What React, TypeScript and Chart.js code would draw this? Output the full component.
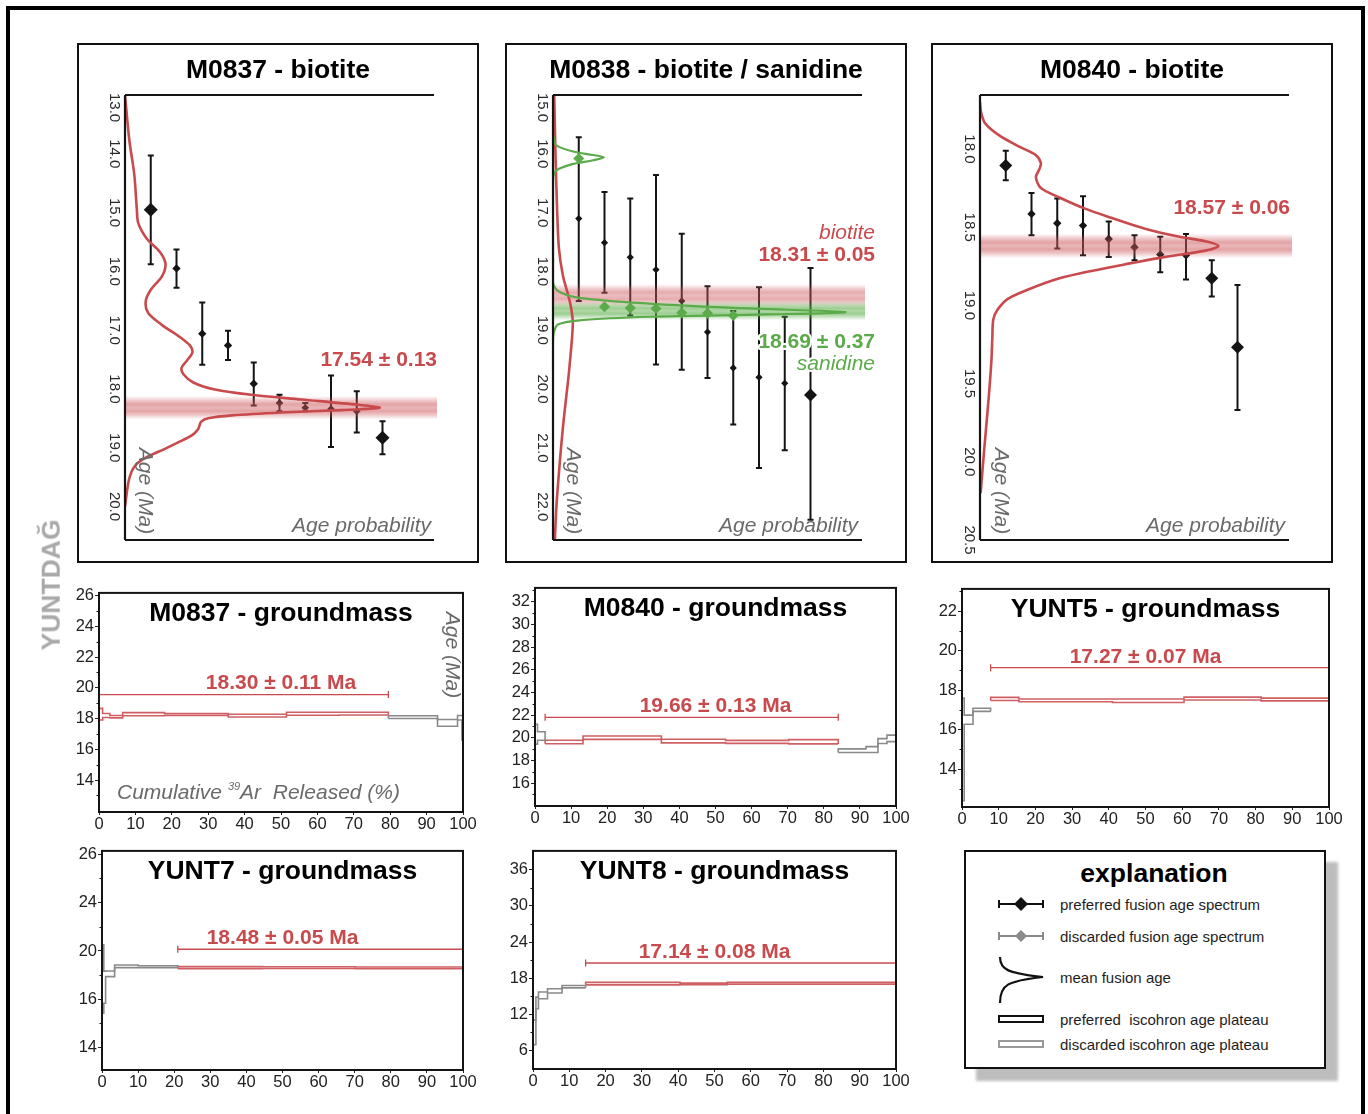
import React, { useEffect, useRef } from 'react';
import { Chart, registerables } from 'chart.js';

Chart.register(...registerables);

const FONT = '"Liberation Sans", Arial, Helvetica, sans-serif';
const INK = '#141414';
const RED = '#c94a4d';
const RED_STEP = '#d05f63';
const GREEN = '#5cab4a';
const GRAY_STEP = '#8a8a8a';
const TEXT_GRAY = '#6a6a6a';

// ================= FUSION AGE PANELS (age probability) =================
// M0837 biotite
const M0837_BT_STEPS = [1, 2, 3, 4, 5, 6, 7, 8, 9, 10];
const M0837_BT_AGE = [14.95, 15.95, 17.06, 17.26, 17.91, 18.24, 18.32, 18.34, 18.38, 18.83];
const M0837_BT_LO = [14.03, 15.63, 16.53, 17.01, 17.55, 18.10, 18.24, 17.77, 18.04, 18.55];
const M0837_BT_HI = [15.88, 16.28, 17.59, 17.51, 18.28, 18.38, 18.38, 18.99, 18.74, 19.11];
const M0837_PDF_AGE = [13.0, 13.77, 14.35, 14.92, 15.18, 15.44, 15.67, 15.87, 16.08, 16.31, 16.51, 16.71, 16.91, 17.12, 17.26, 17.38, 17.52, 17.64, 17.75, 17.89, 18.01, 18.10, 18.18, 18.27, 18.32, 18.36, 18.40, 18.45, 18.50, 18.56, 18.68, 18.79, 18.91, 19.02, 19.16, 19.31, 19.54, 20.0];
const M0837_PDF_P = [0, 0.014, 0.030, 0.038, 0.043, 0.070, 0.113, 0.131, 0.120, 0.084, 0.067, 0.075, 0.119, 0.178, 0.210, 0.218, 0.200, 0.183, 0.189, 0.221, 0.291, 0.409, 0.571, 0.754, 0.824, 0.700, 0.506, 0.345, 0.269, 0.246, 0.237, 0.216, 0.172, 0.129, 0.070, 0.032, 0.013, 0];
const M0837_BT_BAND = [18.32, 0.2];
const M0837_BT_TICKS = [13, 14, 15, 16, 17, 18, 19, 20];
const M0837_BT_TICK_LABELS = ['13.0', '14.0', '15.0', '16.0', '17.0', '18.0', '19.0', '20.0'];

// M0838 biotite / sanidine
const M0838_BT_STEPS = [1, 2, 3, 4, 5, 6, 7, 8, 9, 10];
const M0838_BT_AGE = [17.10, 17.51, 17.76, 17.97, 18.50, 19.03, 19.64, 19.80, 19.90, 20.10];
const M0838_BT_LO = [15.72, 16.65, 16.76, 16.36, 17.36, 18.25, 18.67, 18.27, 18.77, 17.94];
const M0838_BT_HI = [18.50, 18.36, 18.75, 19.58, 19.67, 19.81, 20.60, 21.34, 21.04, 22.22];
const M0838_SA_STEPS = [1, 2, 3, 4, 5, 6, 7];
const M0838_SA_AGE = [16.08, 18.60, 18.62, 18.63, 18.70, 18.71, 18.75];
const M0838_BT_PDF_AGE = [15.0, 16.0, 16.9, 17.6, 18.07, 18.4, 18.6, 18.85, 19.1, 19.35, 19.8, 20.5, 21.0, 21.5, 22.0, 22.56];
const M0838_BT_PDF_P = [0.004, 0.008, 0.013, 0.019, 0.032, 0.049, 0.058, 0.064, 0.062, 0.058, 0.05, 0.035, 0.026, 0.018, 0.011, 0.006];
const M0838_SA_PDF_AGE = [15.67, 15.85, 15.96, 16.02, 16.06, 16.11, 16.18, 16.29, 16.45, 18.18, 18.33, 18.44, 18.53, 18.62, 18.69, 18.73, 18.77, 18.83, 18.90, 19.05, 19.2];
const M0838_SA_PDF_P = [0, 0.009, 0.065, 0.13, 0.165, 0.13, 0.059, 0.009, 0, 0, 0.016, 0.076, 0.259, 0.584, 0.946, 0.692, 0.314, 0.086, 0.016, 0.002, 0];
const M0838_BT_BAND = [18.41, 0.195];
const M0838_SA_BAND = [18.67, 0.16];
const M0838_TICKS = [15, 16, 17, 18, 19, 20, 21, 22];
const M0838_TICK_LABELS = ['15.0', '16.0', '17.0', '18.0', '19.0', '20.0', '21.0', '22.0'];

// M0840 biotite
const M0840_BT_STEPS = [1, 2, 3, 4, 5, 6, 7, 8, 9, 10];
const M0840_BT_AGE = [18.106, 18.415, 18.475, 18.490, 18.576, 18.628, 18.674, 18.680, 18.827, 19.267];
const M0840_BT_LO = [18.011, 18.281, 18.317, 18.302, 18.464, 18.551, 18.561, 18.544, 18.712, 18.870];
const M0840_BT_HI = [18.200, 18.551, 18.637, 18.680, 18.691, 18.712, 18.788, 18.835, 18.943, 19.669];
const M0840_PDF_AGE = [17.70, 17.77, 17.84, 17.92, 17.99, 18.04, 18.09, 18.13, 18.18, 18.25, 18.31, 18.38, 18.44, 18.51, 18.56, 18.59, 18.62, 18.65, 18.69, 18.73, 18.78, 18.83, 18.90, 18.96, 19.03, 19.09, 19.20, 19.35, 19.57, 19.89, 20.20];
const M0840_PDF_P = [0, 0.004, 0.018, 0.067, 0.132, 0.181, 0.197, 0.192, 0.181, 0.197, 0.257, 0.338, 0.425, 0.534, 0.642, 0.729, 0.772, 0.729, 0.599, 0.490, 0.360, 0.252, 0.154, 0.089, 0.056, 0.043, 0.040, 0.037, 0.029, 0.015, 0.002];
const M0840_BT_BAND = [18.62, 0.078];
const M0840_TICKS = [18.0, 18.5, 19.0, 19.5, 20.0, 20.5];
const M0840_TICK_LABELS = ['18.0', '18.5', '19.0', '19.5', '20.0', '20.5'];

// ================= STEP-HEATING (groundmass) PANELS =================
const M0837_GM_X = [0, 1, 3, 6.5, 18, 35.5, 51.5, 66, 79.5, 93, 98.5, 99.7, 100];
const M0837_GM_AGE = [18.28, 18.2, 18.12, 18.28, 18.26, 18.19, 18.31, 18.32, 18.09, 17.72, 18.05, 17.4];
const M0837_GM_ERR = [0.38, 0.13, 0.08, 0.1, 0.06, 0.09, 0.1, 0.09, 0.09, 0.22, 0.15, 0.8];
const M0837_GM_PLATEAU = [0, 7];
const M0837_GM_BAR = [19.56, 0, 79.5];
const M0837_GM_YTICKS = [14, 16, 18, 20, 22, 24, 26];
const M0837_GM_YLABELS = ['14', '16', '18', '20', '22', '24', '26'];
const M0837_GM_YMINOR = [13, 15, 17, 19, 21, 23, 25];

const M0840_GM_X = [0, 0.7, 2.8, 13.3, 35, 52.8, 70.3, 84, 91.7, 95, 97.5, 100];
const M0840_GM_AGE = [20.3, 20.15, 19.62, 20.0, 19.7, 19.63, 19.64, 18.85, 18.95, 19.7, 19.94];
const M0840_GM_ERR = [0.87, 0.38, 0.15, 0.15, 0.16, 0.13, 0.19, 0.16, 0.26, 0.22, 0.29];
const M0840_GM_PLATEAU = [2, 6];
const M0840_GM_BAR = [21.8, 2.8, 84];
const M0840_GM_YTICKS = [16, 18, 20, 22, 24, 26, 28, 30, 32];
const M0840_GM_YLABELS = ['16', '18', '20', '22', '24', '26', '28', '30', '32'];
const M0840_GM_YMINOR = [15, 17, 19, 21, 23, 25, 27, 29, 31, 33];

const YUNT5_X = [0, 0.6, 3, 7.8, 15.5, 41, 60.5, 81.5, 100];
const YUNT5_AGE = [15.0, 16.5, 17.0, 17.55, 17.48, 17.46, 17.57, 17.52];
const YUNT5_ERR = [2.6, 0.23, 0.08, 0.08, 0.07, 0.09, 0.07, 0.07];
const YUNT5_PLATEAU = [3, 7];
const YUNT5_BAR = [19.13, 7.8, 100];
const YUNT5_YTICKS = [14, 16, 18, 20, 22];
const YUNT5_YLABELS = ['14', '16', '18', '20', '22'];
const YUNT5_YMINOR = [13, 15, 17, 19, 21, 23];

const YUNT7_X = [0, 0.5, 1, 3.5, 10, 21, 44.5, 70, 100];
const YUNT7_AGE = [17.67, 17.0, 18.11, 18.73, 18.7, 18.62, 18.62, 18.6];
const YUNT7_ERR = [2.83, 1.33, 0.23, 0.11, 0.08, 0.08, 0.07, 0.07];
const YUNT7_PLATEAU = [5, 7];
const YUNT7_BAR = [20.14, 21, 100];
const YUNT7_YTICKS = [12, 16, 20, 24, 28];
const YUNT7_YLABELS = ['14', '16', '20', '24', '26'];
const YUNT7_YMINOR = [14, 18, 22, 26];

const YUNT8_X = [0, 0.8, 1.5, 4, 8, 14.5, 40.5, 53.5, 77.5, 100];
const YUNT8_AGE = [9.0, 13.9, 15.15, 15.9, 16.6, 17.1, 17.05, 17.18, 17.18];
const YUNT8_ERR = [2.05, 0.96, 0.55, 0.36, 0.2, 0.2, 0.14, 0.16, 0.16];
const YUNT8_PLATEAU = [5, 8];
const YUNT8_BAR = [20.52, 14.5, 100];
const YUNT8_YTICKS = [6, 12, 18, 24, 30, 36];
const YUNT8_YLABELS = ['6', '12', '18', '24', '30', '36'];
const YUNT8_YMINOR = [9, 15, 21, 27, 33];

const LEGEND_ITEMS = [
  'preferred fusion age spectrum',
  'discarded fusion age spectrum',
  'mean fusion age',
  'preferred  iscohron age plateau',
  'discarded iscohron age plateau',
];

// ================= helpers =================
type Txt = { text: string; x: number; y: number; font: string; color: string; align?: CanvasTextAlign; rotate?: number; outline?: boolean };

function drawTxt(ctx: CanvasRenderingContext2D, t: Txt, ox: number, oy: number) {
  ctx.save();
  ctx.font = t.font;
  ctx.fillStyle = t.color;
  ctx.textAlign = t.align || 'center';
  ctx.textBaseline = 'middle';
  ctx.translate(t.x - ox, t.y - oy);
  if (t.rotate) ctx.rotate(t.rotate);
  if (t.outline) {
    ctx.strokeStyle = '#ffffff';
    ctx.lineWidth = 4;
    ctx.lineJoin = 'round';
    ctx.strokeText(t.text, 0, 0);
  }
  ctx.fillText(t.text, 0, 0);
  ctx.restore();
}

const TITLE_FONT = `bold 26.5px ${FONT}`;
const VALUE_FONT = `bold 21px ${FONT}`;
const ITAL_FONT = `italic 21px ${FONT}`;

function fusionConfig(spec: any) {
  const ox = spec.box.l, oy = spec.box.t;
  const datasets: any[] = [];
  spec.curves.forEach((c: any) => {
    datasets.push({
      data: c.age.map((a: number, i: number) => ({ x: c.p[i], y: a })),
      xAxisID: 'xp', yAxisID: 'y', showLine: true, borderColor: c.color, borderWidth: c.width,
      pointRadius: 0, tension: 0.3, fill: false,
    });
  });
  if (spec.extra) {
    datasets.push({
      data: spec.extra.steps.map((s: number, i: number) => ({ x: s, y: spec.extra.age[i] })),
      xAxisID: 'x', yAxisID: 'y', pointStyle: 'rectRot', pointRadius: 5.5,
      backgroundColor: spec.extra.color, borderColor: spec.extra.color, borderWidth: 0,
    });
  }
  const mainIndex = datasets.length;
  datasets.push({
    data: spec.main.steps.map((s: number, i: number) => ({ x: s, y: spec.main.age[i] })),
    xAxisID: 'x', yAxisID: 'y', pointStyle: 'rectRot', pointRadius: spec.main.radius,
    backgroundColor: INK, borderColor: INK, borderWidth: 0,
  });

  const plugin = {
    id: 'fusionDecor',
    beforeDatasetDraw(chart: any, args: any) {
      if (args.index !== mainIndex) return;
      const ctx = chart.ctx, xs = chart.scales.x, ys = chart.scales.y;
      ctx.save();
      ctx.strokeStyle = INK;
      ctx.lineWidth = 2;
      spec.main.steps.forEach((s: number, i: number) => {
        const px = xs.getPixelForValue(s);
        const y1 = ys.getPixelForValue(spec.main.lo[i]);
        const y2 = ys.getPixelForValue(spec.main.hi[i]);
        ctx.beginPath();
        ctx.moveTo(px, y1); ctx.lineTo(px, y2);
        ctx.moveTo(px - 3, y1); ctx.lineTo(px + 3, y1);
        ctx.moveTo(px - 3, y2); ctx.lineTo(px + 3, y2);
        ctx.stroke();
      });
      ctx.restore();
    },
    afterDatasetDraw(chart: any, args: any) {
      if (args.index !== mainIndex) return;
      const ctx = chart.ctx, ys = chart.scales.y, a = chart.chartArea;
      ctx.save();
      spec.bands.forEach((b: any) => {
        const y1 = ys.getPixelForValue(b.v[0] - b.v[1]);
        const y2 = ys.getPixelForValue(b.v[0] + b.v[1]);
        const g = ctx.createLinearGradient(0, y1, 0, y2);
        const c = (al: number) => `rgba(${b.rgb},${al})`;
        g.addColorStop(0, c(0));
        g.addColorStop(0.18, c(b.alpha * 0.55));
        g.addColorStop(0.35, c(b.alpha));
        g.addColorStop(0.5, c(b.alpha * 0.8));
        g.addColorStop(0.65, c(b.alpha));
        g.addColorStop(0.82, c(b.alpha * 0.55));
        g.addColorStop(1, c(0));
        ctx.fillStyle = g;
        ctx.fillRect(a.left, y1, a.right - a.left + 3, y2 - y1);
      });
      ctx.restore();
    },
    afterDraw(chart: any) {
      const ctx = chart.ctx, ys = chart.scales.y, a = chart.chartArea;
      ctx.save();
      ctx.strokeStyle = INK;
      ctx.lineWidth = 2.2;
      ctx.beginPath();
      ctx.moveTo(a.left, a.top); ctx.lineTo(a.left, a.bottom);
      ctx.moveTo(a.left, a.top); ctx.lineTo(a.right, a.top);
      ctx.moveTo(a.left, a.bottom); ctx.lineTo(a.right, a.bottom);
      ctx.stroke();
      ctx.font = `15px ${FONT}`;
      ctx.fillStyle = '#2a2a2a';
      ctx.textAlign = 'center';
      ctx.textBaseline = 'middle';
      spec.ticks.forEach((v: number, i: number) => {
        const lab = spec.tickLabels[i];
        const w = ctx.measureText(lab).width;
        let y = ys.getPixelForValue(v);
        if (y - w / 2 < a.top - 2) y = a.top - 2 + w / 2;
        ctx.save();
        ctx.translate(a.left - 11, y);
        ctx.rotate(Math.PI / 2);
        ctx.fillText(lab, 0, 0);
        ctx.restore();
      });
      ctx.restore();
      spec.texts.forEach((t: Txt) => drawTxt(ctx, t, ox, oy));
    },
  };

  return {
    type: 'scatter',
    data: { datasets },
    options: {
      animation: false, responsive: false, maintainAspectRatio: false, devicePixelRatio: 1, events: [],
      layout: { padding: { left: spec.area.l - spec.box.l, top: spec.area.t - spec.box.t, right: spec.box.r - spec.area.r, bottom: spec.box.b - spec.area.b } },
      plugins: { legend: { display: false }, tooltip: { enabled: false }, title: { display: false } },
      scales: {
        x: { type: 'linear', min: 0, max: 12, display: false },
        xp: { type: 'linear', axis: 'x', min: 0, max: 1, display: false },
        y: { type: 'linear', min: spec.yMin, max: spec.yMax, reverse: true, display: false },
      },
    },
    plugins: [plugin],
  };
}

const PAD_L = 45, PAD_T = 8, PAD_R = 22, PAD_B = 30;

function stepConfig(spec: any) {
  const ox = spec.box.l - PAD_L, oy = spec.box.t - PAD_T;
  const datasets: any[] = [];
  const n = spec.age.length;
  const [p0, p1] = spec.plateau;
  const segs: any[] = [];
  if (p0 > 0) segs.push([0, p0 - 1, GRAY_STEP]);
  segs.push([p0, p1, RED_STEP]);
  if (p1 < n - 1) segs.push([p1 + 1, n - 1, GRAY_STEP]);
  segs.forEach(([a, b, color]: any) => {
    const up: any[] = [{ x: spec.x[a], y: spec.age[a] - spec.err[a] }];
    const lo: any[] = [];
    for (let i = a; i <= b; i++) {
      up.push({ x: spec.x[i], y: spec.age[i] + spec.err[i] });
      lo.push({ x: spec.x[i], y: spec.age[i] - spec.err[i] });
    }
    up.push({ x: spec.x[b + 1], y: spec.age[b] + spec.err[b] });
    up.push({ x: spec.x[b + 1], y: spec.age[b] - spec.err[b] });
    lo.push({ x: spec.x[b + 1], y: spec.age[b] - spec.err[b] });
    [up, lo].forEach((d) => datasets.push({
      data: d, showLine: true, stepped: 'before', borderColor: color, borderWidth: 1.6,
      pointRadius: 0, fill: false, tension: 0,
    }));
  });
  datasets.push({
    data: [{ x: spec.bar[1], y: spec.bar[0] }, { x: spec.bar[2], y: spec.bar[0] }],
    showLine: true, borderColor: RED, borderWidth: 1.3, pointStyle: 'line', pointRadius: 3.5,
    pointRotation: 90, pointBorderColor: RED, pointBorderWidth: 1.3, clip: 6,
  });

  const plugin = {
    id: 'stepDecor',
    afterDraw(chart: any) {
      const ctx = chart.ctx, a = chart.chartArea, ys = chart.scales.y;
      ctx.save();
      ctx.strokeStyle = INK;
      ctx.lineWidth = 2;
      ctx.strokeRect(a.left, a.top, a.right - a.left, a.bottom - a.top);
      ctx.lineWidth = 1;
      ctx.beginPath();
      spec.yMinor.forEach((v: number) => {
        const y = Math.round(ys.getPixelForValue(v)) + 0.5;
        ctx.moveTo(a.left - 2.5, y); ctx.lineTo(a.left, y);
      });
      ctx.stroke();
      ctx.restore();
      const cx = (spec.box.l + spec.box.r) / 2;
      drawTxt(ctx, { text: spec.title, x: cx, y: spec.box.t + 24, font: TITLE_FONT, color: '#000' }, ox, oy);
      const by = ys.getPixelForValue(spec.bar[0]) + oy - 11;
      drawTxt(ctx, { text: spec.label, x: cx, y: by, font: VALUE_FONT, color: RED }, ox, oy);
      if (spec.axisNames) {
        drawTxt(ctx, { text: 'Age (Ma)', x: spec.box.r - 11, y: spec.box.t + 65, font: ITAL_FONT, color: TEXT_GRAY, rotate: Math.PI / 2 }, ox, oy);
        ctx.save();
        ctx.fillStyle = TEXT_GRAY;
        ctx.textAlign = 'left';
        ctx.textBaseline = 'alphabetic';
        let x = spec.box.l + 18 - ox;
        const y = spec.box.b - 13 - oy;
        ctx.font = ITAL_FONT;
        ctx.fillText('Cumulative ', x, y);
        x += ctx.measureText('Cumulative ').width;
        ctx.font = `italic 11px ${FONT}`;
        ctx.fillText('39', x, y - 9);
        x += ctx.measureText('39').width;
        ctx.font = ITAL_FONT;
        ctx.fillText('Ar  Released (%)', x, y);
        ctx.restore();
      }
    },
  };

  const tickFont = { family: FONT, size: 16.5 };
  return {
    type: 'scatter',
    data: { datasets },
    options: {
      animation: false, responsive: false, maintainAspectRatio: false, devicePixelRatio: 1, events: [],
      layout: { padding: { left: 0, top: PAD_T, right: PAD_R, bottom: 0 } },
      plugins: { legend: { display: false }, tooltip: { enabled: false } },
      scales: {
        x: {
          type: 'linear', min: 0, max: 100,
          afterFit: (s: any) => { s.height = PAD_B; },
          ticks: { stepSize: 10, font: tickFont, color: '#222', padding: 0, maxRotation: 0, autoSkip: false },
          grid: { drawOnChartArea: false, tickLength: 3, color: '#222', lineWidth: 1 },
          border: { display: false },
        },
        y: {
          type: 'linear', min: spec.yMin, max: spec.yMax,
          afterFit: (s: any) => { s.width = PAD_L; },
          afterBuildTicks: (s: any) => { s.ticks = spec.yTicks.map((v: number) => ({ value: v })); },
          ticks: { callback: (_v: any, i: number) => spec.yLabels[i], font: tickFont, color: '#222', padding: 1, autoSkip: false },
          grid: { drawOnChartArea: false, tickLength: 4, color: '#222', lineWidth: 1 },
          border: { display: false },
        },
      },
    },
    plugins: [plugin],
  };
}

function ChartCanvas({ left, top, width, height, make }: any) {
  const ref = useRef<HTMLCanvasElement | null>(null);
  useEffect(() => {
    const chart = new Chart(ref.current as HTMLCanvasElement, make());
    return () => chart.destroy();
  }, []);
  return <canvas ref={ref} width={width} height={height} style={{ position: 'absolute', left, top, width, height }} />;
}

// ================= panel specs =================
const txt = (text: string, x: number, y: number, font: string, color: string, extra: any = {}): Txt => ({ text, x, y, font, color, ...extra });

const FUSION_PANELS = [
  {
    box: { l: 78, t: 44, r: 478, b: 562 }, area: { l: 125, t: 95, r: 434, b: 540 },
    yMin: 13.0, yMax: 20.57, ticks: M0837_BT_TICKS, tickLabels: M0837_BT_TICK_LABELS,
    main: { steps: M0837_BT_STEPS, age: M0837_BT_AGE, lo: M0837_BT_LO, hi: M0837_BT_HI, radius: [7, 4.2, 4.2, 4.2, 4.2, 3.8, 3.8, 3.8, 3.8, 7] },
    extra: null,
    curves: [{ age: M0837_PDF_AGE, p: M0837_PDF_P, color: RED, width: 2.6 }],
    bands: [{ v: M0837_BT_BAND, rgb: '205,88,92', alpha: 0.55 }],
    texts: [
      txt('M0837 - biotite', 278, 71, TITLE_FONT, '#000'),
      txt('17.54 ± 0.13', 437, 360, VALUE_FONT, RED, { align: 'right' }),
      txt('Age probability', 431, 526, ITAL_FONT, TEXT_GRAY, { align: 'right' }),
      txt('Age (Ma)', 145, 491, ITAL_FONT, TEXT_GRAY, { rotate: Math.PI / 2 }),
    ],
  },
  {
    box: { l: 506, t: 44, r: 906, b: 562 }, area: { l: 553, t: 95, r: 862, b: 540 },
    yMin: 15.0, yMax: 22.565, ticks: M0838_TICKS, tickLabels: M0838_TICK_LABELS,
    main: { steps: M0838_BT_STEPS, age: M0838_BT_AGE, lo: M0838_BT_LO, hi: M0838_BT_HI, radius: [3.6, 3.6, 3.6, 3.6, 3.6, 3.6, 3.6, 3.6, 3.6, 6.5] },
    extra: { steps: M0838_SA_STEPS, age: M0838_SA_AGE, color: GREEN },
    curves: [
      { age: M0838_SA_PDF_AGE, p: M0838_SA_PDF_P, color: GREEN, width: 2.2 },
      { age: M0838_BT_PDF_AGE, p: M0838_BT_PDF_P, color: RED, width: 2.6 },
    ],
    bands: [
      { v: M0838_BT_BAND, rgb: '205,88,92', alpha: 0.5 },
      { v: M0838_SA_BAND, rgb: '90,172,72', alpha: 0.6 },
    ],
    texts: [
      txt('M0838 - biotite / sanidine', 706, 71, TITLE_FONT, '#000'),
      txt('biotite', 875, 233, ITAL_FONT, RED, { align: 'right' }),
      txt('18.31 ± 0.05', 875, 255, VALUE_FONT, RED, { align: 'right' }),
      txt('18.69 ± 0.37', 875, 342, VALUE_FONT, GREEN, { align: 'right', outline: true }),
      txt('sanidine', 875, 364, ITAL_FONT, GREEN, { align: 'right', outline: true }),
      txt('Age probability', 858, 526, ITAL_FONT, TEXT_GRAY, { align: 'right' }),
      txt('Age (Ma)', 573, 491, ITAL_FONT, TEXT_GRAY, { rotate: Math.PI / 2 }),
    ],
  },
  {
    box: { l: 932, t: 44, r: 1332, b: 562 }, area: { l: 980, t: 95, r: 1289, b: 540 },
    yMin: 17.655, yMax: 20.5, ticks: M0840_TICKS, tickLabels: M0840_TICK_LABELS,
    main: { steps: M0840_BT_STEPS, age: M0840_BT_AGE, lo: M0840_BT_LO, hi: M0840_BT_HI, radius: [6.5, 4.2, 4.2, 4.2, 4.2, 4.2, 4.2, 4.2, 6.5, 6.5] },
    extra: null,
    curves: [{ age: M0840_PDF_AGE, p: M0840_PDF_P, color: RED, width: 2.6 }],
    bands: [{ v: M0840_BT_BAND, rgb: '205,88,92', alpha: 0.55 }],
    texts: [
      txt('M0840 - biotite', 1132, 71, TITLE_FONT, '#000'),
      txt('18.57 ± 0.06', 1290, 208, VALUE_FONT, RED, { align: 'right' }),
      txt('Age probability', 1285, 526, ITAL_FONT, TEXT_GRAY, { align: 'right' }),
      txt('Age (Ma)', 1001, 491, ITAL_FONT, TEXT_GRAY, { rotate: Math.PI / 2 }),
    ],
  },
];

const STEP_PANELS = [
  {
    box: { l: 99, t: 590, r: 463, b: 812 }, yMin: 11.92, yMax: 26.17,
    yTicks: M0837_GM_YTICKS, yLabels: M0837_GM_YLABELS, yMinor: M0837_GM_YMINOR,
    x: M0837_GM_X, age: M0837_GM_AGE, err: M0837_GM_ERR, plateau: M0837_GM_PLATEAU, bar: M0837_GM_BAR,
    title: 'M0837 - groundmass', label: '18.30 ± 0.11 Ma', axisNames: true,
  },
  {
    box: { l: 535, t: 585, r: 896, b: 806 }, yMin: 13.97, yMax: 33.22,
    yTicks: M0840_GM_YTICKS, yLabels: M0840_GM_YLABELS, yMinor: M0840_GM_YMINOR,
    x: M0840_GM_X, age: M0840_GM_AGE, err: M0840_GM_ERR, plateau: M0840_GM_PLATEAU, bar: M0840_GM_BAR,
    title: 'M0840 - groundmass', label: '19.66 ± 0.13 Ma',
  },
  {
    box: { l: 962, t: 586, r: 1329, b: 807 }, yMin: 12.08, yMax: 23.12,
    yTicks: YUNT5_YTICKS, yLabels: YUNT5_YLABELS, yMinor: YUNT5_YMINOR,
    x: YUNT5_X, age: YUNT5_AGE, err: YUNT5_ERR, plateau: YUNT5_PLATEAU, bar: YUNT5_BAR,
    title: 'YUNT5 - groundmass', label: '17.27 ± 0.07 Ma',
  },
  {
    box: { l: 102, t: 848, r: 463, b: 1070 }, yMin: 10.15, yMax: 28.28,
    yTicks: YUNT7_YTICKS, yLabels: YUNT7_YLABELS, yMinor: YUNT7_YMINOR,
    x: YUNT7_X, age: YUNT7_AGE, err: YUNT7_ERR, plateau: YUNT7_PLATEAU, bar: YUNT7_BAR,
    title: 'YUNT7 - groundmass', label: '18.48 ± 0.05 Ma',
  },
  {
    box: { l: 533, t: 848, r: 896, b: 1069 }, yMin: 2.93, yMax: 39.13,
    yTicks: YUNT8_YTICKS, yLabels: YUNT8_YLABELS, yMinor: YUNT8_YMINOR,
    x: YUNT8_X, age: YUNT8_AGE, err: YUNT8_ERR, plateau: YUNT8_PLATEAU, bar: YUNT8_BAR,
    title: 'YUNT8 - groundmass', label: '17.14 ± 0.08 Ma',
  },
];

function HText({ x, y, align = 'left', style, children }: any) {
  const tx = align === 'center' ? '-50%' : align === 'right' ? '-100%' : '0';
  return (
    <div style={{ position: 'absolute', left: x, top: y, transform: `translate(${tx}, -50%)`, whiteSpace: 'nowrap', lineHeight: 1, fontFamily: FONT, ...style }}>
      {children}
    </div>
  );
}

function Explanation() {
  const rowsY = [904, 936, 977, 1019, 1044];
  return (
    <>
      <div style={{ position: 'absolute', left: 976, top: 862, width: 362, height: 219, background: '#bdbdbd', filter: 'blur(1.5px)' }} />
      <div style={{ position: 'absolute', left: 964, top: 850, width: 362, height: 219, background: '#fff', border: '2px solid #111', boxSizing: 'border-box' }} />
      <HText x={1154} y={873} align="center" style={{ fontWeight: 'bold', fontSize: 26.5, color: '#000' }}>explanation</HText>
      {LEGEND_ITEMS.map((s, i) => (
        <HText key={i} x={1060} y={rowsY[i]} style={{ fontSize: 15, color: '#1e1e1e', whiteSpace: 'pre' }}>{s}</HText>
      ))}
      <svg width={60} height={170} style={{ position: 'absolute', left: 990, top: 890 }}>
        <g stroke="#111" strokeWidth={2} fill="none">
          <line x1={9} y1={14} x2={53} y2={14} />
          <line x1={9} y1={10} x2={9} y2={18} />
          <line x1={53} y1={10} x2={53} y2={18} />
        </g>
        <polygon points="31,7 38,14 31,21 24,14" fill="#111" />
        <g stroke="#8a8a8a" strokeWidth={2} fill="none">
          <line x1={9} y1={46} x2={53} y2={46} />
          <line x1={9} y1={42} x2={9} y2={50} />
          <line x1={53} y1={42} x2={53} y2={50} />
        </g>
        <polygon points="31,40 37,46 31,52 25,46" fill="#8a8a8a" />
        <path d="M10,67 C10,80 18,83 53,87 C18,91 10,94 10,113" stroke="#111" strokeWidth={2.2} fill="none" />
        <rect x={9} y={126} width={44} height={6} stroke="#111" strokeWidth={2} fill="none" />
        <rect x={9} y={151} width={44} height={6} stroke="#999" strokeWidth={2} fill="none" />
      </svg>
    </>
  );
}

export default function App() {
  return (
    <div style={{ position: 'absolute', left: 0, top: 0, width: 1368, height: 1114, overflow: 'hidden', background: '#fff', fontFamily: FONT }}>
      <div style={{ position: 'absolute', left: 6, top: 6, width: 1359, height: 1130, border: '4px solid #000', boxSizing: 'border-box' }} />
      {FUSION_PANELS.map((p, i) => (
        <React.Fragment key={'f' + i}>
          <div style={{ position: 'absolute', left: p.box.l - 1, top: p.box.t - 1, width: p.box.r - p.box.l + 2, height: p.box.b - p.box.t + 2, border: '2.5px solid #111', boxSizing: 'border-box' }} />
          <ChartCanvas left={p.box.l} top={p.box.t} width={p.box.r - p.box.l} height={p.box.b - p.box.t} make={() => fusionConfig(p)} />
        </React.Fragment>
      ))}
      {STEP_PANELS.map((p, i) => (
        <ChartCanvas key={'s' + i} left={p.box.l - PAD_L} top={p.box.t - PAD_T}
          width={p.box.r - p.box.l + PAD_L + PAD_R} height={p.box.b - p.box.t + PAD_T + PAD_B}
          make={() => stepConfig(p)} />
      ))}
      <HText x={51} y={585} align="center" style={{ transform: 'translate(-50%, -50%) rotate(-90deg)', fontWeight: 'bold', fontSize: 26.5, color: '#a9a9a9' }}>YUNTDAĞ</HText>
      <Explanation />
    </div>
  );
}
